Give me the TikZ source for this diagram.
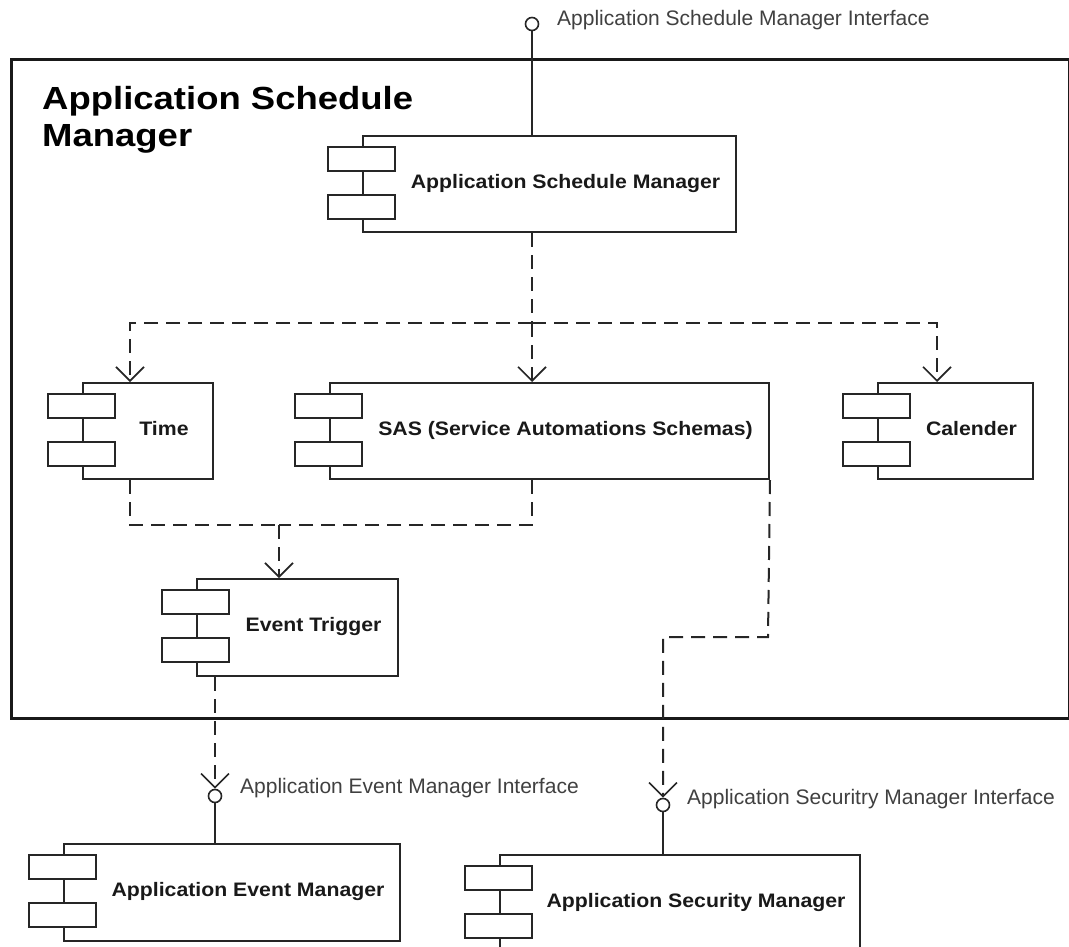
\documentclass[tikz,border=0pt]{standalone}
\usepackage{fontspec}
\setmainfont{Liberation Sans}
\newfontfamily\complabfont{Liberation Sans Bold}[FakeStretch=1.09]
\newfontfamily\titlefont{Liberation Sans Bold}[FakeStretch=1.14]
\usetikzlibrary{arrows.meta}

\tikzset{
  ink/.style={draw=black!85},
  comp/.style={ink, line width=2pt, fill=white, rectangle, inner sep=0pt, anchor=north west},
  port/.style={ink, line width=2pt, fill=white},
  complabel/.style={font=\complabfont\fontsize{19.5}{23}\selectfont, anchor=base, inner sep=0pt, text=black!90},
  ifacelabel/.style={font=\fontsize{21}{25}\selectfont, anchor=base west, inner sep=0pt, text=black!75},
  iface/.style={circle, ink, line width=1.6pt, minimum size=13pt, inner sep=0pt, fill=white},
  dep/.style={ink, line width=2pt, dash pattern=on 14pt off 8pt},
  link/.style={ink, line width=2pt},
  opentip/.style={-{Straight Barb[length=14pt,width=28pt,line width=1.6pt]}},
  frame/.style={draw=black!90, line width=3pt, rectangle, inner sep=0pt, anchor=north west},
  titletext/.style={font=\titlefont\fontsize{32}{37}\selectfont, align=left, anchor=base west, inner sep=0pt}
}

% UML component: name, left, top, right, height, label
\newcommand\umlcomp[6]{%
  \node[comp, minimum width={#4-#2}, minimum height=#5] (#1) at (#2,#3) {};
  \draw[port] ([shift={(-34pt,-12pt)}]#1.north west) rectangle ++(67pt,-24pt);
  \draw[port] ([shift={(-34pt,-60pt)}]#1.north west) rectangle ++(67pt,-24pt);
  \node[complabel] (#1-text) at ({(#2+34+#4)/2},{#3+53.5}) {#6};
}

\begin{document}
\begin{tikzpicture}[x=1pt, y=-1pt]
\useasboundingbox (0,0) rectangle (1069,947);
\fill[white] (0,0) rectangle (1069,947);

% enclosing subsystem (base anchor sits on the last line of the title)
\node[frame, minimum width=1058, minimum height=659] (sys) at (10,58) {};
\node[titletext] (title) at (42,147) {Application Schedule\\Manager};

% components
\umlcomp{asm}{362}{135}{735}{96}{Application Schedule Manager}
\umlcomp{tim}{82}{382}{212}{96}{Time}
\umlcomp{sas}{329}{382}{768}{96}{SAS (Service Automations Schemas)}
\umlcomp{cal}{877}{382}{1032}{96}{Calender}
\umlcomp{evt}{196}{578}{397}{97}{Event Trigger}
\umlcomp{aem}{63}{843}{399}{97}{Application Event Manager}
\umlcomp{asec}{499}{854}{859}{100}{Application Security Manager}

% provided / required interfaces
\node[iface] (asmi) at (532,24) {};
\node[iface] (aemi) at (215,796) {};
\node[iface] (aseci) at (663,805) {};
\node[ifacelabel] (asmi-text) at (557,26) {Application Schedule Manager Interface};
\node[ifacelabel] (aemi-text) at (240,793) {Application Event Manager Interface};
\node[ifacelabel] (aseci-text) at (687,804) {Application Securitry Manager Interface};

% connectors
\draw[link] (asmi) -- (asmi |- asm.north);

\coordinate (fork) at (532,323);
\draw[dep] (fork |- asm.south) -- (fork);
\draw[dep, opentip] (fork) -| ([xshift=48pt]tim.north west);
\draw[dep, opentip] (fork) -- (fork |- sas.north);
\draw[dep, opentip] (fork) -| ([xshift=60pt]cal.north west);

\coordinate (join) at (279,525);
\draw[dep] ([xshift=48pt]tim.south west) |- (join);
\draw[dep] (fork |- sas.south) |- (join);
\draw[dep, opentip] (join) -- (join |- evt.north);

\draw[dep, opentip] (aemi |- evt.south) -- (aemi);
\draw[link] (aemi) -- (aemi |- aem.north);

\coordinate (bend) at (768,637);
\draw[dep, opentip] (sas.south east) -- (bend) -| (aseci);
\draw[link] (aseci) -- (aseci |- asec.north);
\end{tikzpicture}
\end{document}
